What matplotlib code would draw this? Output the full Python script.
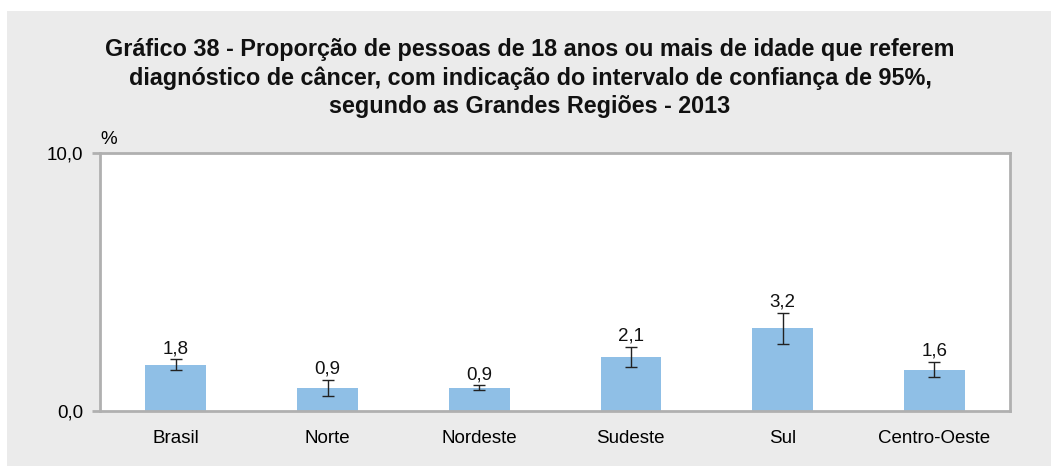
import matplotlib
matplotlib.use("Agg")
import matplotlib.pyplot as plt
from matplotlib.patches import Rectangle

regioes = ["Brasil", "Norte", "Nordeste", "Sudeste", "Sul", "Centro-Oeste"]
proporcao = [1.8, 0.9, 0.9, 2.1, 3.2, 1.6]
ic_inferior = [1.6, 0.6, 0.8, 1.7, 2.6, 1.3]
ic_superior = [2.0, 1.2, 1.0, 2.5, 3.8, 1.9]

titulo = ("Gráfico 38 - Proporção de pessoas de 18 anos ou mais de idade que referem\n"
          "diagnóstico de câncer, com indicação do intervalo de confiança de 95%,\n"
          "segundo as Grandes Regiões - 2013")

plt.rcParams['font.family'] = ['Liberation Sans', 'DejaVu Sans']

W, H = 1051, 466
fig = plt.figure(figsize=(W / 100, H / 100), dpi=100, facecolor="white")
fig.patches.append(Rectangle((7 / W, 0), 1 - 7 / W, 1 - 11 / H,
                             transform=fig.transFigure, facecolor="#ebebeb",
                             edgecolor="none", zorder=-10))

ax = fig.add_axes([100 / W, 1 - 411 / H, (1010 - 100) / W, (411 - 153) / H])
ax.set_facecolor("white")

x = list(range(len(regioes)))
erro = [[p - lo for p, lo in zip(proporcao, ic_inferior)],
        [hi - p for p, hi in zip(proporcao, ic_superior)]]
ax.bar(x, proporcao, width=0.4, color="#8fbfe6", zorder=2)
ax.errorbar(x, proporcao, yerr=erro, fmt="none", ecolor="#222222",
            elinewidth=1.0, capsize=4.5, capthick=1.0, zorder=3)

fs = 13.5
for xi, p, hi in zip(x, proporcao, ic_superior):
    ax.text(xi, hi + 0.08, f"{p:.1f}".replace(".", ","), ha="center", va="bottom",
            fontsize=fs, color="#111111")

ax.set_xlim(-0.5, len(regioes) - 0.5)
ax.set_ylim(0, 10)
ax.set_yticks([0, 10])
ax.set_yticklabels(["0,0", "10,0"], fontsize=fs)
ax.set_xticks(x)
ax.set_xticklabels(regioes, fontsize=fs)
ax.tick_params(axis="x", length=0, pad=14)
ax.tick_params(axis="y", length=6, width=2, color="#b0b0b0", pad=6)
for s in ax.spines.values():
    s.set_color("#b0b0b0")
    s.set_linewidth(2)

ax.text(0, 1.02, "%", transform=ax.transAxes, ha="left", va="bottom", fontsize=fs)

fig.text(530 / W, 1 - 78 / H, titulo, ha="center", va="center", fontsize=16.8,
         fontweight="bold", linespacing=1.3, color="#111111")

fig.savefig("out.png", dpi=100, facecolor=fig.get_facecolor())
